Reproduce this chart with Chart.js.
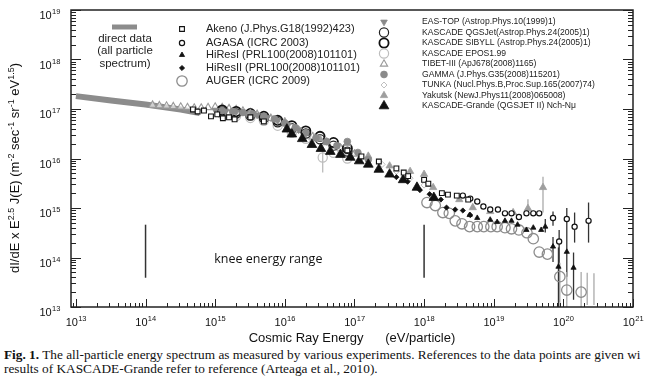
<!DOCTYPE html>
<html><head><meta charset="utf-8">
<script src="https://cdn.jsdelivr.net/npm/chart.js@4.4.0/dist/chart.umd.min.js"></script>
<style>
html,body{margin:0;padding:0;background:#fff;width:645px;height:376px;overflow:hidden}
#wrap{position:relative;width:645px;height:346px}
#cap{font-family:'Liberation Serif','Times New Roman',serif;font-size:13.3px;line-height:14px;color:#111;white-space:nowrap;overflow:hidden;width:641px;padding-left:4px;margin-top:2px}
</style></head><body>
<div id="wrap"><canvas id="c" width="645" height="346"></canvas></div>
<div id="cap"><div><b>Fig. 1.</b> The all-particle energy spectrum as measured by various experiments. References to the data points are given wi</div><div>results of KASCADE-Grande refer to reference (Arteaga et al., 2010).</div></div>
<script>
// ---------- axis ticks ----------
const xDecades = [1e13,1e14,1e15,1e16,1e17,1e18,1e19,1e20,1e21];
const xTickLabels = [['10','13'],['10','14'],['10','15'],['10','16'],['10','17'],['10','18'],['10','19'],['10','20'],['10','21']];
const yDecades = [1e13,1e14,1e15,1e16,1e17,1e18,1e19];
const yTickLabels = [['10','13'],['10','14'],['10','15'],['10','16'],['10','17'],['10','18'],['10','19']];

// ---------- data (E in eV, F = E^2.5 J(E)) ----------
const directE = [1e13, 3.2e13, 1e14, 3.2e14, 6e14];
const directF = [1.82e17, 1.48e17, 1.23e17, 9.8e16, 8.3e16];

const akenoE = [4.8e14,5.6e14,6.9e14,8.7e14,1.07e15,1.29e15,1.58e15,1.9e15,3.2e15,5.0e15,7.9e16,1.26e17,2.24e17,4.0e17,5.1e17,5.9e17,1.0e18,1.15e18,1.8e18,2.2e18,2.95e18,4.3e18];
const akenoF = [9.8e16,8.9e16,9.3e16,7.1e16,7.8e16,6.5e16,6.8e16,6.2e16,6.8e16,5.6e16,1.45e16,1.1e16,8.7e15,6.3e15,5.2e15,4.4e15,3.7e15,3.1e15,2.0e15,1.86e15,1.78e15,1.48e15];

const agasaE = [3.6e18,4.6e18,5.8e18,7.1e18,8.9e18,1.15e19,1.45e19,1.8e19,2.3e19,2.95e19,3.7e19,4.5e19,7.1e19,8.7e19,1.12e20,1.45e20,2.3e20];
const agasaF = [1.78e15,1.55e15,1.35e15,1.07e15,9.3e14,9.3e14,7.8e14,7.8e14,6.6e14,7.8e14,7.8e14,7.8e14,6.3e14,2.1e14,6.0e14,4.2e14,5.5e14];
const agasaLo = [null,null,null,null,null,null,null,null,null,null,null,null,4.4e14,1.26e13,3.6e14,2.0e14,2.0e14];
const agasaHi = [null,null,null,null,null,null,null,null,null,null,null,null,8.5e14,3.6e14,1.0e15,8.1e14,1.29e15];

const hires1E = [4.5e18,5.8e18,8.9e18,1.12e19,1.45e19,1.8e19,2.2e19,2.95e19,3.7e19,4.8e19,5.5e19,7.1e19,8.5e19,1.12e20,1.4e20];
const hires1F = [7.2e14,6.3e14,5.8e14,5.2e14,5.5e14,5.5e14,4.6e14,3.6e14,4.0e14,3.6e14,4.2e14,1.66e14,6.5e13,1.3e14,6.2e13];
const hires1Lo = [null,null,null,null,null,null,null,null,null,null,3.2e14,8.1e13,1e13,4.1e13,1.4e13];
const hires1Hi = [null,null,null,null,null,null,null,null,null,null,6.0e14,2.6e14,1.6e14,3.6e14,1.26e14];

const hires2E = [4.0e17,5.8e17,8.7e17,1.2e18,1.74e18,2.1e18,2.8e18,3.6e18,4.6e18];
const hires2F = [4.2e15,3.4e15,2.3e15,1.9e15,1.48e15,1.02e15,9.3e14,8.9e14,7.2e14];

const augerE = [1.1e18,1.45e18,1.86e18,2.3e18,2.8e18,3.5e18,4.5e18,5.8e18,7.2e18,9.1e18,1.12e19,1.45e19,1.8e19,2.3e19,3.0e19,3.7e19,4.5e19,5.9e19,8.9e19,1.12e20,1.8e20,2.2e20,2.75e20];
const augerF = [1.29e15,1.12e15,8.1e14,7.8e14,5.5e14,4.8e14,4.2e14,4.2e14,4.2e14,4.2e14,4.2e14,4.0e14,3.8e14,3.6e14,3.16e14,2.4e14,1.29e14,1.17e14,4.1e13,2.2e13,2.0e13,null,null];
const augerLo = [null,null,null,null,null,null,null,null,null,null,null,null,null,null,null,null,null,null,1e13,1e13,1e13,1.1e13,1.1e13];
const augerHi = [null,null,null,null,null,null,null,null,null,null,null,null,null,null,null,null,null,null,7.8e13,5.1e13,5.1e13,4.9e13,4.8e13];

const eastopE = [1e15,1.41e15,2e15,2.8e15,4e15,5.6e15,7.9e15,1.12e16,1.58e16];
const eastopF = [9.5e16,9.1e16,8.7e16,8.1e16,7.6e16,6.8e16,5.8e16,4.8e16,3.8e16];

const kqgsE = [1.26e15,2e15,3.2e15,5e15,7.9e15,1.26e16,2e16,3.2e16,5e16,7.9e16];
const kqgsF = [8.9e16,8.1e16,7.4e16,6.5e16,5.4e16,4.1e16,3.2e16,2.45e16,1.82e16,1.38e16];
const ksibE = [1.26e15,2e15,3.2e15,5e15,7.9e15,1.26e16,2e16,3.2e16,5e16,7.9e16];
const ksibF = [9.6e16,8.9e16,8.1e16,7.1e16,5.9e16,4.6e16,3.6e16,2.8e16,2.1e16,1.6e16];
const keposE = [1.26e15,2e15,3.2e15,5e15,7.9e15,1.26e16,2e16,3.5e16,5e16,7.9e16];
const keposF = [7.9e16,7.2e16,6.6e16,5.8e16,4.6e16,3.3e16,2.5e16,1.05e16,1.3e16,1.0e16];
const keposLo = [null,null,null,null,null,null,null,5.2e15,null,null];
const keposHi = [null,null,null,null,null,null,null,1.6e16,null,null];

const tibetE = [1.26e14,1.58e14,2e14,2.5e14,3.2e14,4e14,5e14,6.3e14,7.9e14,1e15,1.26e15,1.58e15,2e15,2.5e15,3.2e15,4e15,6.3e15,1e16,1.58e16,2.5e16,4e16,6.3e16,1e17];
const tibetF = [1.2e17,1.17e17,1.15e17,1.12e17,1.1e17,1.07e17,1.05e17,1.05e17,1.07e17,1.1e17,1.07e17,1.02e17,9.8e16,9.1e16,8.5e16,7.8e16,6.5e16,5.1e16,3.7e16,2.75e16,2.1e16,1.62e16,1.23e16];

const gammaE = [1.26e15,1.78e15,2.5e15,3.5e15,5e15,7.1e15,1e16,1.41e16,2e16,2.8e16,4e16,5.6e16,7.9e16,1.12e17,1.58e17];
const gammaF = [9.3e16,8.9e16,8.5e16,7.9e16,7.2e16,6.3e16,5.2e16,4.2e16,3.3e16,2.6e16,2.2e16,1.82e16,2.2e16,1.32e16,9.5e15];

const tunkaE = [2.5e15,4e15,6.3e15,1e16,1.58e16,2.5e16,4e16,6.3e16,1e17,1.58e17,2.5e17,4e17,6.3e17,1e18];
const tunkaF = [8.3e16,7.4e16,6.3e16,5.2e16,4.0e16,3.0e16,2.3e16,1.74e16,1.32e16,1.0e16,7.6e15,5.5e15,4.0e15,2.9e15];

const yakutskE = [3.2e15,1e16,3.2e16,7.9e16,1.58e17,3.2e17,6.3e17,1e18,1.35e18,3.2e18,5e18,8.9e18,1.9e19,3.1e19,5.1e19];
const yakutskF = [8.3e16,5.6e16,2.5e16,2.0e16,1.12e16,7.1e15,5.5e15,4.8e15,2.6e15,1.48e15,1.02e15,8.5e14,8.1e14,9.8e14,2.6e15];
const yakutskLo = [null,null,null,null,null,null,null,null,null,null,null,null,null,7.4e14,8.1e14];
const yakutskHi = [null,null,null,null,null,null,null,null,null,null,null,null,null,1.5e15,4.3e15];

const kgE = [1.07e16,1.26e16,1.78e16,2.45e16,3.3e16,4.5e16,6.3e16,8.7e16,1.17e17,1.58e17,2.24e17,3.2e17,5.0e17,7.9e17,1.38e18];
const kgF = [3.9e16,3.1e16,2.5e16,1.9e16,1.58e16,1.38e16,1.2e16,1.05e16,8.9e15,7.6e15,6.0e15,4.8e15,3.7e15,2.6e15,1.62e15];

// knee range markers
const kneeE = [1e14, 1e18];
const kneeLineF = [3.9e13, 4.6e14];
const kneeText = 'knee energy range';
const kneeTextAt = [5.8e15, 9.3e13];

// ---------- build datasets ----------
function pts(E, F){ return E.map((e,i)=>({x:e, y:F[i]})); }
function mk(label, E, F, st, err){
  return Object.assign({label, data: pts(E,F), showLine:false,
    pointStyle: st.shape, pointRadius: st.r, pointHoverRadius: st.r, pointRotation: st.rot||0,
    pointBackgroundColor: st.fill, pointBorderColor: st.stroke, pointBorderWidth: st.bw,
    backgroundColor: st.fill, borderColor: st.stroke, borderWidth: st.bw}, err?{errLo:err[0], errHi:err[1], errColor:err[2]}:{});
}
const ST = {
  akeno:{shape:'rect', r:3.4, fill:'#fff', stroke:'#111', bw:1.1},
  agasa:{shape:'circle', r:2.6, fill:'#fff', stroke:'#111', bw:1.2},
  hires1:{shape:'triangle', r:3.0, fill:'#111', stroke:'#111', bw:0.8},
  hires2:{shape:'rectRot', r:2.6, fill:'#111', stroke:'#111', bw:0.8},
  auger:{shape:'circle', r:5.2, fill:'rgba(255,255,255,0)', stroke:'#8c8c8c', bw:1.3},
  eastop:{shape:'triangle', rot:180, r:3.8, fill:'#8a8a8a', stroke:'#8a8a8a', bw:0.8},
  kqgs:{shape:'circle', r:4.6, fill:'rgba(255,255,255,0)', stroke:'#222', bw:1.2},
  ksib:{shape:'circle', r:4.6, fill:'rgba(255,255,255,0)', stroke:'#111', bw:1.8},
  kepos:{shape:'circle', r:4.6, fill:'rgba(255,255,255,0)', stroke:'#bdbdbd', bw:1.2},
  tibet:{shape:'triangle', r:4.2, fill:'rgba(255,255,255,0.6)', stroke:'#9a9a9a', bw:1.1},
  gamma:{shape:'circle', r:3.4, fill:'#8a8a8a', stroke:'#8a8a8a', bw:0.8},
  tunka:{shape:'rectRot', r:3.0, fill:'#fff', stroke:'#c0c0c0', bw:1.0},
  yakutsk:{shape:'triangle', r:4.2, fill:'#9e9e9e', stroke:'#9e9e9e', bw:0.8},
  kg:{shape:'triangle', r:5.6, fill:'#111', stroke:'#111', bw:0.8}
};
const D = {
  hires2: mk('HiResII (PRL100(2008)101101)', hires2E, hires2F, ST.hires2),
  hires1: mk('HiResI (PRL100(2008)101101)', hires1E, hires1F, ST.hires1, [hires1Lo, hires1Hi, '#333']),
  akeno: mk('Akeno (J.Phys.G18(1992)423)', akenoE, akenoF, ST.akeno),
  agasa: mk('AGASA (ICRC 2003)', agasaE, agasaF, ST.agasa, [agasaLo, agasaHi, '#333']),
  kg: mk('KASCADE-Grande (QGSJET II) Nch-Nμ', kgE, kgF, ST.kg),
  gamma: mk('GAMMA (J.Phys.G35(2008)115201)', gammaE, gammaF, ST.gamma),
  yakutsk: mk('Yakutsk (NewJ.Phys11(2008)065008)', yakutskE, yakutskF, ST.yakutsk, [yakutskLo, yakutskHi, '#aaa']),
  eastop: mk('EAS-TOP (Astrop.Phys.10(1999)1)', eastopE, eastopF, ST.eastop),
  kqgs: mk('KASCADE QGSJet(Astrop.Phys.24(2005)1)', kqgsE, kqgsF, ST.kqgs),
  ksib: mk('KASCADE SIBYLL (Astrop.Phys.24(2005)1)', ksibE, ksibF, ST.ksib),
  kepos: mk('KASCADE EPOS1.99', keposE, keposF, ST.kepos, [keposLo, keposHi, '#bbb']),
  tibet: mk('TIBET-III (ApJ678(2008)1165)', tibetE, tibetF, ST.tibet),
  tunka: mk('TUNKA (Nucl.Phys.B,Proc.Sup.165(2007)74)', tunkaE, tunkaF, ST.tunka),
  auger: mk('AUGER (ICRC 2009)', augerE, augerF, ST.auger, [augerLo, augerHi, '#aaa'])
};
const direct = {label:'direct data (all particle spectrum)', data: pts(directE, directF), showLine:true, borderColor:'#8c8c8c', borderWidth:6, pointRadius:0, fill:false};
const knee1 = {label:'knee1', data: pts([kneeE[0],kneeE[0]], kneeLineF), showLine:true, borderColor:'#333', borderWidth:1.5, pointRadius:0};
const knee2 = {label:'knee2', data: pts([kneeE[1],kneeE[1]], kneeLineF), showLine:true, borderColor:'#333', borderWidth:1.5, pointRadius:0};

const order = ['hires2','hires1','akeno','agasa','kg','gamma','yakutsk','eastop','kqgs','ksib','kepos','tibet','tunka','auger'];
const datasets = order.map(k=>D[k]).concat([direct, knee1, knee2]);

const legendLeft = [['akeno',29],['agasa',43],['hires1',55],['hires2',68],['auger',81]];
const legendRight = [['eastop',22],['kqgs',32.5],['ksib',43],['kepos',53.5],['tibet',64],['gamma',74.5],['tunka',85],['yakutsk',95.5],['kg',106]];
const directLegend = ['direct data','(all particle','spectrum)'];
const yTitle = [['dI/dE x E',0],['2.5',1],[' J(E) (m',0],['-2',1],[' sec',0],['-1',1],[' sr',0],['-1',1],[' eV',0],['1.5',1],[')',0]];

function logTicks(min, max){
  const out=[]; const e0=Math.floor(Math.log10(min)), e1=Math.ceil(Math.log10(max));
  for(let e=e0;e<=e1;e++){ for(let m=1;m<=9;m++){ const v=m*Math.pow(10,e); if(v>=min*(1-1e-9) && v<=max*(1+1e-9)) out.push({value:v}); } }
  return out;
}
const isDecade = v => Math.abs(Math.log10(v)-Math.round(Math.log10(v)))<1e-6;
const FONT = "'Liberation Sans', Arial, sans-serif";

function drawMarker(ctx, st, x, y){
  ctx.save();
  ctx.fillStyle = st.fill; ctx.strokeStyle = st.stroke; ctx.lineWidth = st.bw;
  if (Chart.helpers && Chart.helpers.drawPoint){
    Chart.helpers.drawPoint(ctx, {pointStyle: st.shape, radius: st.r, rotation: st.rot||0, borderWidth: st.bw}, x, y);
  } else {
    ctx.beginPath(); ctx.arc(x,y,st.r,0,Math.PI*2); ctx.fill(); ctx.stroke();
  }
  ctx.restore();
}
function supLabel(ctx, parts, x, y, align){
  ctx.font = '11px '+FONT; const w1 = ctx.measureText(parts[0]).width;
  ctx.font = '7.5px '+FONT; const w2 = ctx.measureText(parts[1]).width;
  let x0 = align==='center' ? x-(w1+w2)/2 : x-(w1+w2);
  ctx.textAlign='left'; ctx.textBaseline='alphabetic';
  ctx.font = '11px '+FONT; ctx.fillText(parts[0], x0, y);
  ctx.font = '7.5px '+FONT; ctx.fillText(parts[1], x0+w1+0.3, y-5);
}

const decor = {
  id:'decor',
  beforeDatasetsDraw(chart){
    const ctx = chart.ctx, xs = chart.scales.x, ys = chart.scales.y;
    ctx.save();
    chart.data.datasets.forEach(d=>{
      if(!d.errLo) return;
      ctx.strokeStyle = d.errColor; ctx.lineWidth = 1.3;
      d.data.forEach((p,i)=>{
        if(d.errLo[i]==null) return;
        const px = xs.getPixelForValue(p.x);
        ctx.beginPath(); ctx.moveTo(px, ys.getPixelForValue(d.errLo[i])); ctx.lineTo(px, ys.getPixelForValue(d.errHi[i])); ctx.stroke();
      });
    });
    ctx.restore();
  },
  afterDraw(chart){
    const ctx = chart.ctx, a = chart.chartArea, xs = chart.scales.x, ys = chart.scales.y;
    ctx.save();
    // frame
    ctx.strokeStyle = '#222'; ctx.lineWidth = 1.5;
    ctx.strokeRect(a.left, a.top, a.right-a.left, a.bottom-a.top);
    // inward ticks
    ctx.lineWidth = 1;
    xs.ticks.forEach(t=>{
      const px = Math.round(xs.getPixelForValue(t.value))+0.5;
      const L = isDecade(t.value)?8:4;
      ctx.beginPath(); ctx.moveTo(px, a.bottom); ctx.lineTo(px, a.bottom-L); ctx.stroke();
    });
    ys.ticks.forEach(t=>{
      const py = Math.round(ys.getPixelForValue(t.value))+0.5;
      const L = isDecade(t.value)?10:5;
      ctx.beginPath(); ctx.moveTo(a.left, py); ctx.lineTo(a.left+L, py); ctx.stroke();
      ctx.beginPath(); ctx.moveTo(a.right, py); ctx.lineTo(a.right-L, py); ctx.stroke();
    });
    // tick labels
    ctx.fillStyle = '#111';
    xDecades.forEach((v,i)=>supLabel(ctx, xTickLabels[i], xs.getPixelForValue(v), a.bottom+19, 'center'));
    yDecades.forEach((v,i)=>supLabel(ctx, yTickLabels[i], a.left-11, ys.getPixelForValue(v)+9, 'right'));
    // y title with superscripts
    ctx.fillStyle = '#111'; ctx.textBaseline = 'alphabetic'; ctx.textAlign='left';
    const fb = '13px '+FONT, fs = '9px '+FONT;
    let w = 0;
    yTitle.forEach(s=>{ ctx.font = s[1]?fs:fb; w += ctx.measureText(s[0]).width; });
    ctx.translate(19, 168); ctx.rotate(-Math.PI/2);
    let x = -w/2;
    yTitle.forEach(s=>{ ctx.font = s[1]?fs:fb; ctx.fillText(s[0], x, s[1]?-5:0); x += ctx.measureText(s[0]).width; });
    ctx.setTransform(1,0,0,1,0,0);
    // knee text
    ctx.font = "12.5px 'Open Sans', sans-serif"; ctx.textAlign='center'; ctx.textBaseline='middle'; ctx.fillStyle='#111';
    ctx.fillText(kneeText, xs.getPixelForValue(kneeTextAt[0]), ys.getPixelForValue(kneeTextAt[1]));
    // legend: direct data
    ctx.strokeStyle = '#8c8c8c'; ctx.lineWidth = 5;
    ctx.beginPath(); ctx.moveTo(112, 27); ctx.lineTo(137, 27); ctx.stroke();
    ctx.font = '11.5px '+FONT; ctx.fillStyle='#222';
    directLegend.forEach((s,i)=>ctx.fillText(s, 125, 39+i*12.3));
    // legend left
    ctx.textAlign='left';
    ctx.font = '11px '+FONT;
    legendLeft.forEach(([k,y])=>{ drawMarker(ctx, ST[k], 182, y); ctx.fillStyle='#222'; ctx.fillText(D[k].label, 206, y); });
    ctx.font = '8.6px '+FONT;
    legendRight.forEach(([k,y])=>{ drawMarker(ctx, ST[k], 384, y); ctx.fillStyle='#222'; ctx.fillText(D[k].label, 422, y); });
    ctx.restore();
  }
};

new Chart(document.getElementById('c'), {
  type:'scatter',
  data:{datasets},
  options:{
    responsive:false, animation:false, devicePixelRatio:1,
    layout:{padding:{top:10, right:12, left:0, bottom:0}},
    plugins:{legend:{display:false}, tooltip:{enabled:false}},
    scales:{
      x:{type:'logarithmic', min:8.5e12, max:1e21,
        grid:{display:false, drawTicks:false}, border:{display:false},
        afterBuildTicks(s){ s.ticks = logTicks(s.min, s.max); },
        afterFit(s){ s.height = 39; },
        ticks:{display:false},
        title:{display:true, text:'Cosmic Ray Energy      (eV/particle)', color:'#111', font:{family:FONT, size:13}, padding:{top:0,bottom:0}}
      },
      y:{type:'logarithmic', min:1e13, max:1e19,
        grid:{display:false, drawTicks:false}, border:{display:false},
        afterBuildTicks(s){ s.ticks = logTicks(s.min, s.max); },
        afterFit(s){ s.width = 71; },
        ticks:{display:false}
      }
    }
  },
  plugins:[decor]
});
</script>
</body></html>
